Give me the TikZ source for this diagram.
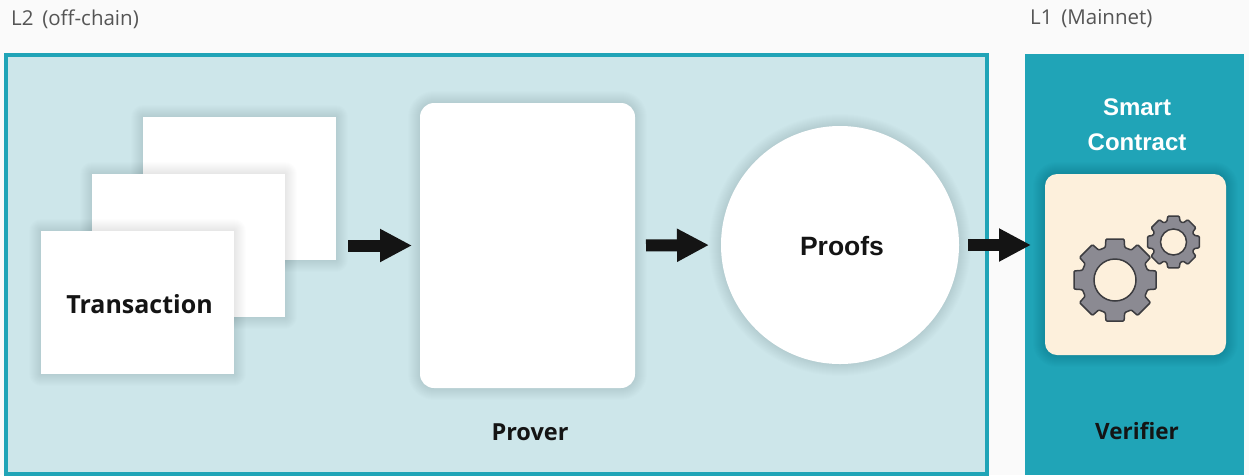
\documentclass[tikz,border=0pt]{standalone}
\usepackage{fontspec}
\setmainfont{Liberation Sans}
\newfontfamily\labelfont{Open Sans}
\usetikzlibrary{arrows.meta,calc}
\definecolor{pagebg}{HTML}{FAFAFA}
\definecolor{paleteal}{HTML}{CDE6EA}
\definecolor{tealc}{HTML}{20A4B7}
\definecolor{cream}{HTML}{FDF0DC}
\definecolor{geargray}{HTML}{8B8A92}
\definecolor{gearline}{HTML}{3C3C40}
\definecolor{inkc}{HTML}{141414}
\definecolor{graytext}{HTML}{555555}
\tikzset{
  card/.style={fill=white,draw=none,inner sep=0pt,outer sep=0pt,minimum width=193pt,minimum height=143pt},
  bold label/.style={font=\bfseries\fontsize{#1}{#1}\selectfont,inner sep=0pt,text=inkc},
  humanist label/.style={font=\labelfont\bfseries\fontsize{#1}{#1}\selectfont,inner sep=0pt,text=inkc},
  layer label/.style={font=\labelfont\fontsize{20.5}{20.5}\selectfont,inner sep=0pt,text=graytext,anchor=west},
  blockarrow/.style={line width=12pt,draw=inkc,-{Triangle[length=32pt,width=31pt]}},
  gearstyle/.style={fill=geargray,draw=gearline,line width=1.5pt,rounded corners=1pt,line join=round}
}
\newcommand{\softrect}[5]{%
  \foreach \i in {1,...,12}{%
    \fill[black,opacity=0.007,rounded corners={#5+\i*1pt}]
      (#1-\i,#2-\i) rectangle (#3+\i,#4+\i);
  }%
}
\newcommand{\softcirc}[3]{%
  \foreach \i in {1,...,12}{%
    \fill[black,opacity=0.007] (#1,#2) circle (#3+\i);
  }%
}
\newcommand{\gearshape}[7]{% cx cy rtip rroot tiphalf roothalf rhole
  \draw[gearstyle] (#1,#2) ++(-#6:#4)
    \foreach \a in {0,45,...,315}{
      -- ($(#1,#2)+(\a-#6:#4)$) -- ($(#1,#2)+(\a-#5:#3)$)
      -- ($(#1,#2)+(\a+#5:#3)$) -- ($(#1,#2)+(\a+#6:#4)$)
    } -- cycle;
  \draw[fill=cream,draw=gearline,line width=1.5pt] (#1,#2) circle (#7);
}
\begin{document}
\begin{tikzpicture}[x=1pt,y=-1pt]
\useasboundingbox (0,0) rectangle (1249,475);
\fill[pagebg] (0,0) rectangle (1249,475);
\node[layer label] (l2) at (11,19) {L2\, (off-chain)};
\node[layer label] (l1) at (1030,19) {L1\, (Mainnet)};
% L2 panel
\draw[fill=paleteal,draw=tealc,line width=4pt] (6.3,54.5) rectangle (987,473.5);
% L1 panel
\fill[tealc] (1025,54) rectangle (1244,475);
% transaction sheets
\softrect{143}{117}{336}{260}{0pt}
\node[card] (sheetA) at (239.5,188.5) {};
\softrect{92}{174}{285}{317}{0pt}
\node[card] (sheetB) at (188.5,245.5) {};
\softrect{41}{231}{234}{374}{0pt}
\node[card] (sheetC) at (137.5,302.5) {};
\node[humanist label=25] (txlabel) at (139.5,304.5) {Transaction};
% prover
\softrect{420}{103}{635}{388}{14pt}
\node[fill=white,rounded corners=14pt,inner sep=0pt,outer sep=0pt,minimum width=215pt,minimum height=285pt] (prover) at (527.5,245.5) {};
\node[humanist label=23.5] (proverlabel) at (530,432) {Prover};
% proofs
\softcirc{840}{245}{119}
\node[circle,fill=white,inner sep=0pt,outer sep=0pt,minimum size=238pt] (proofs) at (840,245) {};
\node[bold label=26.5] at (842,246.5) (prooflabel) {Proofs};
% L1 contents
\node[bold label=24,text=white,align=center] (smart) at (1137,107) {Smart};
\node[bold label=24,text=white,align=center] (contract) at (1137,142) {Contract};
\softrect{1045}{174}{1226}{355}{12pt}
\node[fill=cream,rounded corners=12pt,inner sep=0pt,outer sep=0pt,minimum size=181pt] (verifiercard) at (1135.5,264.5) {};
\node[humanist label=22.5] (verifier) at (1137,431) {Verifier};
% gears
\gearshape{1115}{280}{42}{34}{12.5}{16.5}{21}
\gearshape{1173.5}{242}{26.5}{21.5}{12.5}{18}{13}
% connectors
\coordinate (sheetout) at (sheetA.east |- prover.west);
\draw[blockarrow,shorten <=12pt,shorten >=8pt] (sheetout) -- (prover.west);
\draw[blockarrow,shorten <=11pt,shorten >=12pt] (prover.east) -- (proofs.west);
\draw[blockarrow,shorten <=9pt,shorten >=14pt] (proofs.east) -- (proofs.east -| verifiercard.west);
\end{tikzpicture}
\end{document}
